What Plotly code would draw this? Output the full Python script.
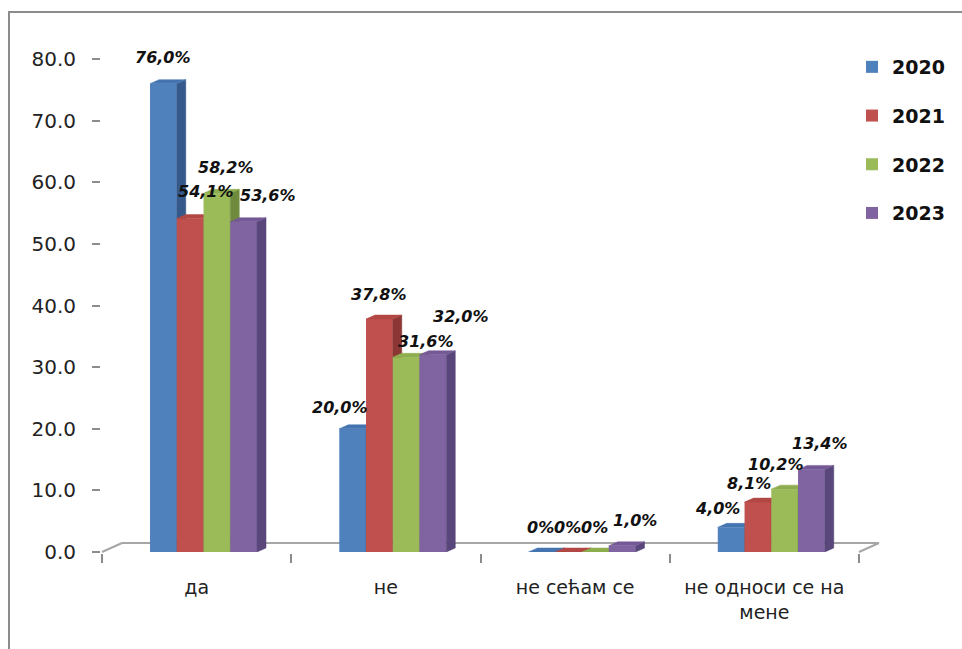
import plotly.graph_objects as go

# Survey answers per year (percent)
categories = ["да", "не", "не сећам се", "не односи се на<br>мене"]
years = ["2020", "2021", "2022", "2023"]
values_2020 = [76.0, 20.0, 0.0, 4.0]
values_2021 = [54.1, 37.8, 0.0, 8.1]
values_2022 = [58.2, 31.6, 0.0, 10.2]
values_2023 = [53.6, 32.0, 1.0, 13.4]
series = [values_2020, values_2021, values_2022, values_2023]

# Styling
front_colors = ["#4F81BD", "#C0504D", "#9BBB59", "#8064A2"]
top_colors = ["#4475B0", "#B24744", "#8EAD4E", "#745996"]
side_colors = ["#35598A", "#8C3735", "#6F8A3C", "#59467A"]
AXIS_GRAY = "#8C8C8C"
FONT = "DejaVu Sans"

# Canvas / plot-area geometry
W, H = 962, 649
ML, MR, MT, MB = 102, 103, 59, 97
PW, PH = W - ML - MR, H - MT - MB
X_RANGE = (-0.5, 3.5)
Y_RANGE = (0, 80)
PX_X = PW / (X_RANGE[1] - X_RANGE[0])   # pixels per x unit
PX_Y = PH / (Y_RANGE[1] - Y_RANGE[0])   # pixels per y unit

# Bar layout (in x units) and the fake 3-D depth (in pixels)
BAR_W = 26.75 / PX_X
FIRST_OFFSET = -46.6 / PX_X
DEPTH_DX, DEPTH_DY = 9, 4
FLOOR_DX, FLOOR_DY = 20, 9

# Label nudges in pixels (right, up) per series/category
label_dx = [[0, -13, -1, -14], [16, 0, -1, -9], [9, 20, -1, -9], [24, 28, 13, 9]]
label_dy = [[26, 21, 25, 19], [27, 25, 25, 19], [26, 16, 25, 25], [26, 38, 25, 26]]


def px_to_paper_x(px):
    return (px - ML) / PW


def px_to_paper_y(py):
    return (MT + PH - py) / PH


def fmt(v):
    return "0%" if v == 0 else f"{v:.1f}".replace(".", ",") + "%"


fig = go.Figure()
dx = DEPTH_DX / PX_X
dy = DEPTH_DY / PX_Y
xpos = list(range(len(categories)))

for i, (year, vals) in enumerate(zip(years, series)):
    off = FIRST_OFFSET + i * BAR_W
    fig.add_trace(go.Bar(
        x=xpos, y=vals, name=year, offset=off, width=BAR_W,
        marker=dict(color=front_colors[i], line=dict(width=0)),
        legendgroup=year, zorder=2 * i,
    ))
    side_x, side_y, top_x, top_y = [], [], [], []
    for c, v in zip(xpos, vals):
        xl = c + off
        xr = xl + BAR_W
        side_x += [xr, xr + dx, xr + dx, xr, xr, None]
        side_y += [0, dy, v + dy, v, 0, None]
        top_x += [xl, xr, xr + dx, xl + dx, xl, None]
        top_y += [v, v, v + dy, v + dy, v, None]
    fig.add_trace(go.Scatter(
        x=side_x, y=side_y, mode="lines", fill="toself",
        fillcolor=side_colors[i], line=dict(color=side_colors[i], width=0.5),
        showlegend=False, hoverinfo="skip", zorder=2 * i + 1,
    ))
    fig.add_trace(go.Scatter(
        x=top_x, y=top_y, mode="lines", fill="toself",
        fillcolor=top_colors[i], line=dict(color=top_colors[i], width=0.5),
        showlegend=False, hoverinfo="skip", zorder=2 * i + 1,
    ))
    for c, v in zip(xpos, vals):
        fig.add_annotation(
            x=c + off + BAR_W / 2, y=v, text=fmt(v), showarrow=False,
            xshift=label_dx[i][c], yshift=label_dy[i][c],
            font=dict(family=FONT, size=16, color="#111", weight="bold", style="italic"),
        )

# 3-D floor behind the bars
fx, fy = FLOOR_DX / PW, FLOOR_DY / PH
floor_line = dict(color="#A6A6A6", width=2)
fig.add_shape(type="line", xref="paper", yref="paper", x0=0, y0=0, x1=fx, y1=fy,
              line=floor_line, layer="below")
fig.add_shape(type="line", xref="paper", yref="paper", x0=fx, y0=fy, x1=1 + fx, y1=fy,
              line=floor_line, layer="below")
fig.add_shape(type="line", xref="paper", yref="paper", x0=1 + fx, y0=fy, x1=1, y1=0,
              line=floor_line, layer="below")

# Chart-area frame
fig.add_shape(type="rect", xref="paper", yref="paper",
              x0=px_to_paper_x(9), y0=px_to_paper_y(12),
              x1=px_to_paper_x(W + 20), y1=px_to_paper_y(H + 20),
              line=dict(color=AXIS_GRAY, width=2), layer="below")

fig.update_layout(
    width=W, height=H,
    margin=dict(l=ML, r=MR, t=MT, b=MB, autoexpand=False),
    paper_bgcolor="white", plot_bgcolor="white",
    barmode="overlay",
    font=dict(family=FONT, size=17, color="#222"),
    legend=dict(
        x=px_to_paper_x(852), y=px_to_paper_y(48), xanchor="left", yanchor="top",
        font=dict(family=FONT, size=19, color="#111", weight="bold"),
        tracegroupgap=21, bgcolor="rgba(0,0,0,0)", itemwidth=30,
    ),
    xaxis=dict(
        range=list(X_RANGE), tickvals=xpos, ticktext=categories, ticks="",
        showline=True, linecolor=AXIS_GRAY, linewidth=2, showgrid=False, zeroline=False,
        ticklabelstandoff=17, tickfont=dict(size=19),
        minor=dict(tickvals=[-0.5, 0.5, 1.5, 2.5, 3.5], ticks="outside", ticklen=9,
                   tickwidth=2, tickcolor=AXIS_GRAY, showgrid=False),
    ),
    yaxis=dict(
        range=list(Y_RANGE), dtick=10, tickformat=".1f", ticks="outside", ticklen=8,
        tickwidth=2, tickcolor=AXIS_GRAY, showline=True, linecolor=AXIS_GRAY,
        linewidth=2, showgrid=False, zeroline=False, ticklabelstandoff=12,
        tickfont=dict(size=20),
    ),
)

fig.write_html("out.html")
